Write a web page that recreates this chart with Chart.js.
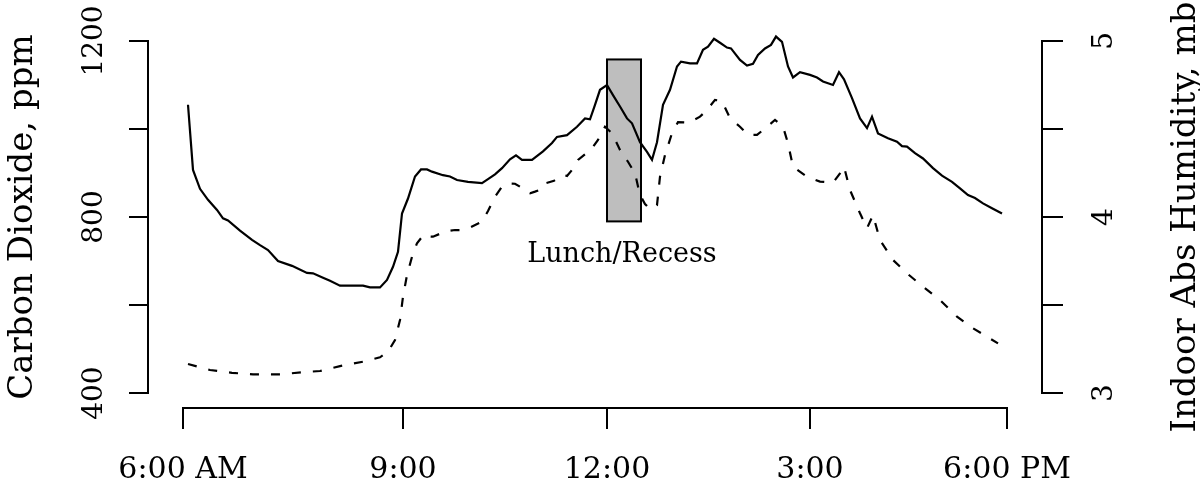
<!DOCTYPE html>
<html>
<head>
<meta charset="utf-8">
<script src="https://cdn.jsdelivr.net/npm/chart.js@4"></script>
<style>
  html, body { margin: 0; padding: 0; background: #fff; }
  #wrap { width: 1200px; height: 480px; }
</style>
</head>
<body>
<div id="wrap"><canvas id="co2Chart" width="1200" height="480"></canvas></div>
<script>
// ---- data (x = position along the day axis, 0 = 6:00 AM, 824 = 6:00 PM) ----
const xTickPos = [0, 220, 424, 627, 824];
const xTickLabels = ['6:00 AM', '9:00', '12:00', '3:00', '6:00 PM'];
const co2Ticks = [400, 600, 800, 1000, 1200];
const co2Labels = ['400', '', '800', '', '1200'];
const humTicks = [3, 3.5, 4, 4.5, 5];
const humLabels = ['3', '', '4', '', '5'];

// Carbon dioxide, ppm (solid line)
const co2Time = [5, 10, 17, 25, 34, 40, 45, 57, 69, 77, 85, 95, 109, 124, 130, 140, 147, 157, 180, 187,
  197, 204, 210, 215, 219, 225, 232, 238, 244, 249, 260, 267, 274, 285, 299, 305, 312, 319, 327, 333,
  339, 349, 360, 369, 374, 384, 394, 402, 407, 412, 417, 424, 430, 437, 444, 449, 457, 464, 469, 474,
  480, 487, 494, 498, 507, 514, 520, 525, 531, 537, 544, 548, 557, 564, 570, 575, 582, 588, 593, 599,
  605, 610, 617, 627, 634, 640, 650, 656, 661, 669, 677, 684, 689, 695, 705, 714, 719, 724, 732, 740,
  750, 759, 769, 777, 785, 792, 800, 809, 819];
const co2Values = [1055, 907, 864, 839, 816, 797, 792, 769, 748, 736, 725, 700, 689, 673, 672, 662, 655, 644, 644, 640,
  640, 657, 687, 721, 808, 842, 892, 908, 908, 903, 895, 892, 884, 880, 877, 886, 897, 911, 931, 940,
  930, 930, 949, 968, 982, 986, 1005, 1024, 1022, 1055, 1089, 1100, 1077, 1051, 1024, 1013, 970, 948, 930, 970,
  1055, 1089, 1142, 1153, 1149, 1149, 1180, 1187, 1205, 1196, 1185, 1183, 1157, 1144, 1148, 1168, 1183, 1191, 1210, 1198,
  1142, 1117, 1129, 1123, 1117, 1108, 1100, 1129, 1113, 1070, 1024, 1002, 1028, 990, 979, 971, 961, 960, 945, 933,
  911, 894, 880, 865, 850, 843, 831, 820, 808];

// Indoor absolute humidity, mb (dashed line)
const humTime = [5, 27, 49, 70, 97, 119, 137, 157, 180, 197, 205, 212, 217, 220, 224, 229, 234, 241, 246, 250,
  263, 272, 277, 288, 299, 305, 312, 319, 325, 332, 337, 340, 347, 352, 359, 362, 371, 380, 384, 389,
  395, 404, 409, 415, 422, 429, 437, 445, 452, 457, 462, 467, 474, 477, 482, 489, 495, 506, 517, 524,
  532, 539, 547, 557, 565, 574, 584, 592, 600, 605, 610, 624, 637, 650, 657, 661, 667, 677, 684, 690,
  697, 710, 724, 740, 757, 774, 790, 804, 815];
const humValues = [3.165, 3.131, 3.115, 3.106, 3.106, 3.118, 3.125, 3.153, 3.178, 3.203, 3.235, 3.301, 3.415, 3.547, 3.670, 3.774, 3.851, 3.901, 3.889, 3.888,
  3.919, 3.926, 3.926, 3.943, 3.973, 4.034, 4.115, 4.172, 4.190, 4.189, 4.172, 4.153, 4.135, 4.144, 4.159, 4.191, 4.206, 4.239, 4.233, 4.267,
  4.324, 4.365, 4.390, 4.438, 4.513, 4.476, 4.381, 4.314, 4.248, 4.125, 4.074, 4.044, 4.068, 4.229, 4.352, 4.476, 4.539, 4.536, 4.570, 4.608,
  4.665, 4.659, 4.561, 4.513, 4.466, 4.466, 4.513, 4.551, 4.513, 4.419, 4.286, 4.229, 4.201, 4.195, 4.248, 4.286, 4.153, 4.021, 3.936, 4.011,
  3.869, 3.756, 3.680, 3.604, 3.528, 3.434, 3.368, 3.320, 3.282];

// Lunch/Recess shaded block
const lunchStart = 424, lunchEnd = 458;
const lunchLow = 790, lunchHigh = 1158;
const lunchText = 'Lunch/Recess';

const FONT = "'DejaVu Serif', serif";

// ---- R-style axes, drawn from the chart's own scales ----
const baseAxesPlugin = {
    id: 'baseAxes',
    beforeDatasetsDraw(chart) {
        const { ctx } = chart;
        const x = chart.scales.x, y = chart.scales.y;
        const x0 = x.getPixelForValue(lunchStart), x1 = x.getPixelForValue(lunchEnd);
        const y0 = y.getPixelForValue(lunchHigh), y1 = y.getPixelForValue(lunchLow);
        ctx.save();
        ctx.fillStyle = '#bebebe';
        ctx.fillRect(x0, y0, x1 - x0, y1 - y0);
        ctx.strokeStyle = '#000';
        ctx.lineWidth = 2;
        ctx.strokeRect(x0, y0, x1 - x0, y1 - y0);
        ctx.fillStyle = '#000';
        ctx.font = '27px ' + FONT;
        ctx.textAlign = 'center';
        ctx.textBaseline = 'alphabetic';
        ctx.fillText(lunchText, (x0 + x1) / 2 - 2, y1 + 41);
        ctx.restore();
    },
    afterDraw(chart) {
        const { ctx, chartArea } = chart;
        const x = chart.scales.x, y = chart.scales.y, y1 = chart.scales.y1;
        ctx.save();
        ctx.strokeStyle = '#000';
        ctx.fillStyle = '#000';
        ctx.lineWidth = 2;
        ctx.lineCap = 'square';

        // bottom axis
        const by = chartArea.bottom;
        ctx.beginPath();
        ctx.moveTo(x.getPixelForValue(xTickPos[0]), by);
        ctx.lineTo(x.getPixelForValue(xTickPos[xTickPos.length - 1]), by);
        xTickPos.forEach(v => {
            const px = x.getPixelForValue(v);
            ctx.moveTo(px, by);
            ctx.lineTo(px, by + 20);
        });
        ctx.stroke();
        ctx.font = '30px ' + FONT;
        ctx.textAlign = 'center';
        ctx.textBaseline = 'alphabetic';
        xTickPos.forEach((v, i) => ctx.fillText(xTickLabels[i], x.getPixelForValue(v), 478));

        // left axis
        const lx = chartArea.left;
        ctx.beginPath();
        ctx.moveTo(lx, y.getPixelForValue(co2Ticks[0]));
        ctx.lineTo(lx, y.getPixelForValue(co2Ticks[co2Ticks.length - 1]));
        co2Ticks.forEach(v => {
            const py = y.getPixelForValue(v);
            ctx.moveTo(lx, py);
            ctx.lineTo(lx - 18, py);
        });
        ctx.stroke();
        ctx.font = '28px ' + FONT;
        co2Ticks.forEach((v, i) => {
            if (!co2Labels[i]) return;
            ctx.save();
            ctx.translate(102, y.getPixelForValue(v));
            ctx.rotate(-Math.PI / 2);
            ctx.fillText(co2Labels[i], 0, 0);
            ctx.restore();
        });

        // right axis
        const rx = chartArea.right;
        ctx.beginPath();
        ctx.moveTo(rx, y1.getPixelForValue(humTicks[0]));
        ctx.lineTo(rx, y1.getPixelForValue(humTicks[humTicks.length - 1]));
        humTicks.forEach(v => {
            const py = y1.getPixelForValue(v);
            ctx.moveTo(rx, py);
            ctx.lineTo(rx + 20, py);
        });
        ctx.stroke();
        humTicks.forEach((v, i) => {
            if (!humLabels[i]) return;
            ctx.save();
            ctx.translate(1112, y1.getPixelForValue(v));
            ctx.rotate(-Math.PI / 2);
            ctx.fillText(humLabels[i], 0, 0);
            ctx.restore();
        });

        // axis titles
        const midY = (chartArea.top + chartArea.bottom) / 2;
        ctx.font = '34px ' + FONT;
        ctx.save();
        ctx.translate(32, midY);
        ctx.rotate(-Math.PI / 2);
        ctx.fillText('Carbon Dioxide, ppm', 0, 0);
        ctx.restore();
        ctx.save();
        ctx.translate(1195, midY);
        ctx.rotate(-Math.PI / 2);
        ctx.fillText('Indoor Abs Humidity, mb', 0, 0);
        ctx.restore();
        ctx.restore();
    }
};

new Chart(document.getElementById('co2Chart'), {
    type: 'line',
    data: {
        datasets: [
            {
                label: 'Carbon Dioxide, ppm',
                data: co2Time.map((t, i) => ({ x: t, y: co2Values[i] })),
                borderColor: '#000',
                borderWidth: 2.2,
                pointRadius: 0,
                tension: 0,
                fill: false,
                yAxisID: 'y'
            },
            {
                label: 'Indoor Abs Humidity, mb',
                data: humTime.map((t, i) => ({ x: t, y: humValues[i] })),
                borderColor: '#000',
                borderWidth: 2.2,
                borderDash: [9, 12],
                pointRadius: 0,
                tension: 0,
                fill: false,
                yAxisID: 'y1'
            }
        ]
    },
    options: {
        responsive: false,
        animation: false,
        devicePixelRatio: 1,
        layout: { padding: { left: 148, right: 158, top: 26, bottom: 72 } },
        plugins: { legend: { display: false }, tooltip: { enabled: false } },
        scales: {
            x: { type: 'linear', min: -35, max: 859, display: false },
            y: { type: 'linear', min: 366, max: 1234, display: false },
            y1: { type: 'linear', min: 2.915, max: 5.085, display: false, position: 'right' }
        }
    },
    plugins: [baseAxesPlugin]
});
</script>
</body>
</html>
